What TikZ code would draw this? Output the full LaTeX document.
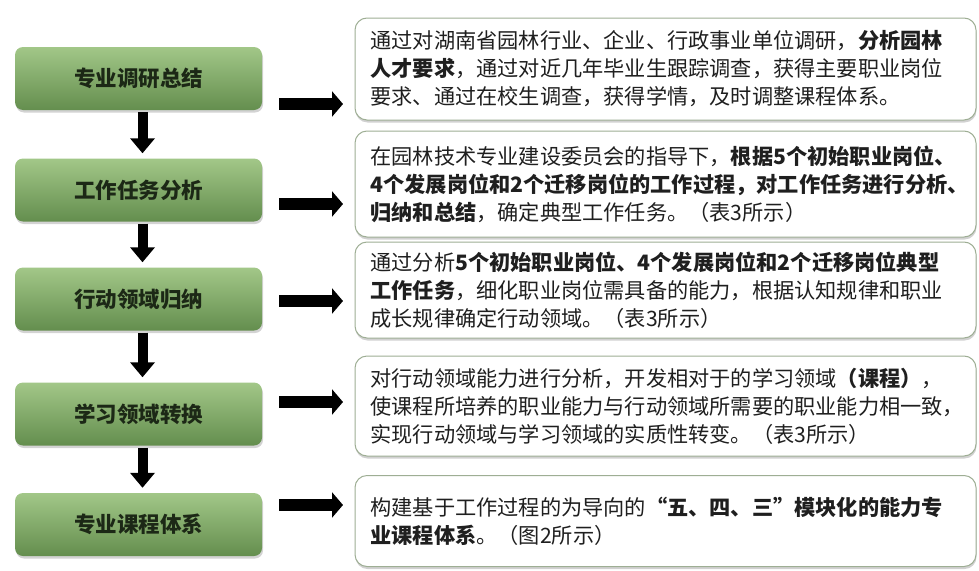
\documentclass[tikz,border=0pt]{standalone}
\usepackage{fontspec}
\newfontfamily\cjk{Noto Sans CJK SC}
\usetikzlibrary{arrows.meta,shadows}
\definecolor{stepTop}{RGB}{162,199,136}
\definecolor{stepBot}{RGB}{100,142,78}
\definecolor{stepText}{RGB}{28,40,22}
\definecolor{noteLine}{RGB}{158,174,148}
\tikzset{
  stepbox/.style={rounded corners=8pt, top color=stepTop, bottom color=stepBot, draw=none,
    minimum width=247pt, minimum height=63pt, text=stepText,
    font=\cjk\bfseries\fontsize{21.5pt}{26pt}\selectfont,
    drop shadow={opacity=0.35, shadow xshift=1pt, shadow yshift=-2.5pt}},
  notebox/.style={rounded corners=12pt, draw=noteLine, line width=1pt, fill=white,
    text width=590pt, inner xsep=15.5pt, inner ysep=0pt, align=left, text=black!88,
    font=\cjk\fontsize{21.2pt}{28pt}\selectfont,
    drop shadow={opacity=0.3, fill=black!60, shadow xshift=0.5pt, shadow yshift=-2.5pt}},
  downarrow/.style={line width=10pt, -{Triangle[length=15pt, width=24pt]}},
  rightarrow/.style={line width=12pt, -{Triangle[length=11pt, width=25pt]}}
}
\begin{document}
\begin{tikzpicture}[x=1pt, y=-1pt]
\useasboundingbox (0,0) rectangle (979,570);
% left column
\node[stepbox] (s1) at (138.5,78.5) {专业调研总结};
\node[stepbox] (s2) at (138.5,190) {工作任务分析};
\node[stepbox] (s3) at (138.5,299) {行动领域归纳};
\node[stepbox] (s4) at (138.5,414) {学习领域转换};
\node[stepbox] (s5) at (138.5,524.5) {专业课程体系};
\foreach \a/\b in {s1/s2, s2/s3, s3/s4, s4/s5}
  \draw[downarrow, shorten <=2pt, shorten >=5pt] ([xshift=4pt]\a.south) -- ([xshift=4pt]\b.north);
% right column
\node[notebox, minimum height=102pt] (d1) at (665.5,69) {通过对湖南省园林行业、企业、行政事业单位调研，\textbf{分析园林}\\
  \textbf{人才要求}，通过对近几年毕业生跟踪调查，获得主要职业岗位\\
  要求、通过在校生调查，获得学情，及时调整课程体系。};
\node[notebox, minimum height=106pt] (d2) at (665.5,184) {在园林技术专业建设委员会的指导下，\textbf{根据5个初始职业岗位、}\\
  \textbf{4个发展岗位和2个迁移岗位的工作过程，对工作任务进行分析、}\\
  \textbf{归纳和总结}，确定典型工作任务。（表3所示）};
\node[notebox, minimum height=96pt] (d3) at (665.5,290) {通过分析\textbf{5个初始职业岗位、4个发展岗位和2个迁移岗位典型}\\
  \textbf{工作任务}，细化职业岗位需具备的能力，根据认知规律和职业\\
  成长规律确定行动领域。（表3所示）};
\node[notebox, minimum height=100pt] (d4) at (665.5,406) {对行动领域能力进行分析，开发相对于的学习领域\textbf{（课程）}，\\
  使课程所培养的职业能力与行动领域所需要的职业能力相一致，\\
  实现行动领域与学习领域的实质性转变。（表3所示）};
\node[notebox, minimum height=91pt] (d5) at (665.5,521) {构建基于工作过程的为导向的\textbf{“五、四、三”模块化的能力专}\\
  \textbf{业课程体系}。（图2所示）};
% links
\foreach \y [count=\i] in {104,204,301,402,505} {
  \coordinate (ra\i) at (279,\y);
  \coordinate (rb\i) at (343,\y);
  \draw[rightarrow] (ra\i) -- (rb\i);
}
\end{tikzpicture}
\end{document}
